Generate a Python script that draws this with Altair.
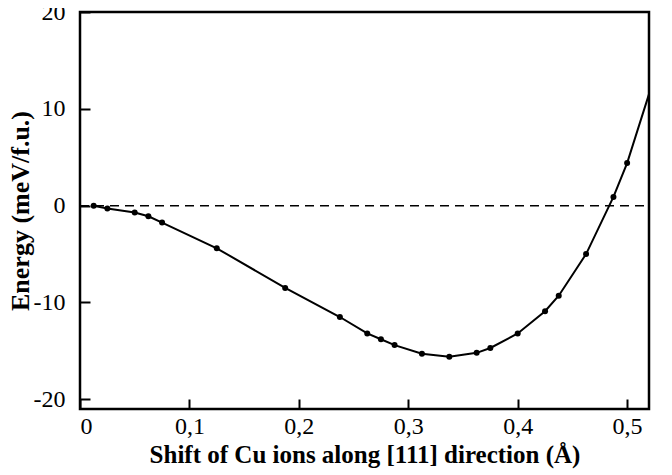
import altair as alt
import pandas as pd

shift = [0.0125, 0.025, 0.05, 0.0625, 0.075, 0.125, 0.1875, 0.2375, 0.2625, 0.275,
         0.2875, 0.3125, 0.3375, 0.3625, 0.375, 0.4, 0.425, 0.4375, 0.4625, 0.4875,
         0.5, 0.525]
energy = [0.0, -0.3, -0.7, -1.1, -1.75, -4.4, -8.5, -11.5, -13.2, -13.8,
          -14.4, -15.3, -15.6, -15.2, -14.7, -13.2, -10.9, -9.3, -5.0, 0.9,
          4.4, 13.3]
x_major = [0, 0.1, 0.2, 0.3, 0.4, 0.5]
y_major = [-20, -10, 0, 10, 20]

df = pd.DataFrame({"shift": shift, "energy": energy})
zero_df = pd.DataFrame({"shift": [0, 0.52], "energy": [0, 0]})

W, H = 569, 397
FONT = "Liberation Serif"
xs = alt.Scale(domain=[0, 0.52], nice=False, zero=False)
ys = alt.Scale(domain=[-21, 20], nice=False, zero=False)

# inward ticks: negative tick length given as an expression
x_axis = alt.Axis(orient="bottom", values=x_major, ticks=True,
                  tickSize=alt.ExprRef("-10"), tickWidth=2, tickColor="black",
                  domain=False, grid=False, labelPadding=15,
                  labelFont=FONT, labelFontSize=24, labelColor="black",
                  labelExpr="replace(toString(datum.value), '.', ',')",
                  title="Shift of Cu ions along [111] direction (Å)",
                  titleFont=FONT, titleFontSize=25, titleFontWeight="bold",
                  titleColor="black", titlePadding=4)
y_axis = alt.Axis(orient="left", values=y_major, ticks=True,
                  tickSize=alt.ExprRef("-10"), tickWidth=2, tickColor="black",
                  domain=False, grid=False, labelPadding=25,
                  labelFont=FONT, labelFontSize=24, labelColor="black",
                  labelExpr="toString(datum.value)",
                  title="Energy (meV/f.u.)",
                  titleFont=FONT, titleFontSize=26, titleFontWeight="bold",
                  titleColor="black", titlePadding=0)

line = alt.Chart(df).mark_line(color="black", strokeWidth=2, clip=True).encode(
    x=alt.X("shift:Q", scale=xs, axis=x_axis),
    y=alt.Y("energy:Q", scale=ys, axis=y_axis),
)

points = alt.Chart(df).mark_circle(color="black", size=36, opacity=1, clip=True).encode(
    x=alt.X("shift:Q", scale=xs),
    y=alt.Y("energy:Q", scale=ys),
)

zero = alt.Chart(zero_df).mark_line(color="black", strokeWidth=1.5,
                                    strokeDash=[9, 6]).encode(
    x=alt.X("shift:Q", scale=xs),
    y=alt.Y("energy:Q", scale=ys),
)

chart = alt.layer(line, points, zero).properties(
    width=W, height=H,
    autosize=alt.AutoSizeParams(type="none"),
    padding={"left": 72, "top": 4, "right": 10, "bottom": 60},
    background="white",
).configure_view(stroke="black", strokeWidth=2.5).configure_axis(
    labelFont=FONT, titleFont=FONT
)

chart.save("out.html", embed_options={"renderer": "svg", "actions": False})
